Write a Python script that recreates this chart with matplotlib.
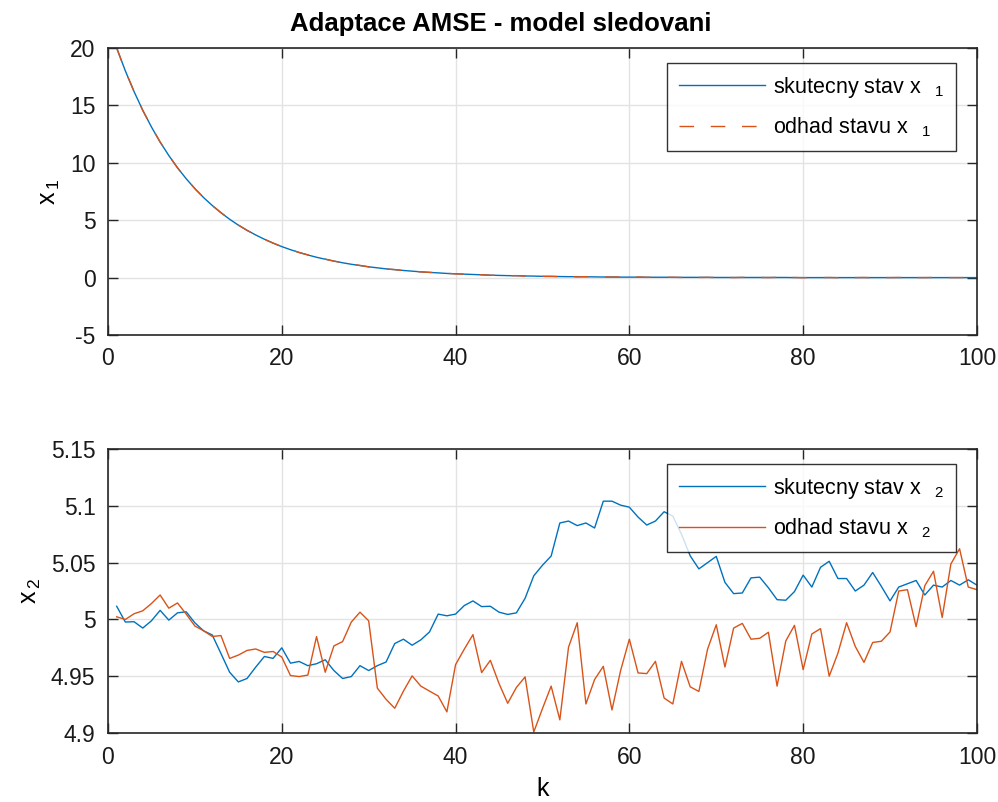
import numpy as np
import matplotlib.pyplot as plt
from matplotlib.ticker import FormatStrFormatter

plt.rcParams['font.family'] = ['Liberation Sans', 'DejaVu Sans']
plt.rcParams['mathtext.fontset'] = 'custom'
plt.rcParams['mathtext.rm'] = 'Liberation Sans'
plt.rcParams['mathtext.it'] = 'Liberation Sans'
plt.rcParams['axes.unicode_minus'] = False

k = np.arange(1, 101)

x1_true = [20.00, 18.00, 16.20, 14.58, 13.12, 11.81, 10.63, 9.57, 8.61, 7.75,
           6.97, 6.28, 5.65, 5.08, 4.57, 4.12, 3.71, 3.34, 3.00, 2.70,
           2.43, 2.19, 1.97, 1.77, 1.60, 1.44, 1.29, 1.16, 1.05, 0.94,
           0.85, 0.76, 0.69, 0.62, 0.56, 0.50, 0.45, 0.41, 0.36, 0.33,
           0.30, 0.27, 0.24, 0.21, 0.19, 0.17, 0.16, 0.14, 0.13, 0.11,
           0.10, 0.09, 0.08, 0.08, 0.07, 0.06, 0.05, 0.05, 0.04, 0.04,
           0.04, 0.03, 0.03, 0.03, 0.02, 0.02, 0.02, 0.02, 0.02, 0.01,
           0.01, 0.01, 0.01, 0.01, 0.01, 0.01, 0.01, 0.01, 0.00, 0.00,
           0.00, 0.00, 0.00, 0.00, 0.00, 0.00, 0.00, 0.00, 0.00, 0.00,
           0.00, 0.00, 0.00, 0.00, 0.00, 0.00, 0.00, 0.00, 0.00, 0.00]
x1_est = [20.00, 17.98, 16.22, 14.56, 13.14, 11.80, 10.64, 9.55, 8.62, 7.74,
          6.98, 6.27, 5.66, 5.07, 4.58, 4.11, 3.72, 3.33, 3.01, 2.69,
          2.44, 2.18, 1.98, 1.76, 1.61, 1.43, 1.30, 1.15, 1.06, 0.93,
          0.86, 0.74, 0.70, 0.61, 0.57, 0.49, 0.46, 0.40, 0.37, 0.32,
          0.31, 0.26, 0.25, 0.20, 0.20, 0.16, 0.17, 0.13, 0.14, 0.10,
          0.11, 0.08, 0.10, 0.06, 0.08, 0.05, 0.06, 0.04, 0.05, 0.03,
          0.05, 0.02, 0.04, 0.02, 0.03, 0.01, 0.03, 0.01, 0.02, 0.00,
          0.02, 0.00, 0.02, 0.00, 0.01, 0.00, 0.02, 0.00, 0.01, -0.01,
          0.01, 0.00, 0.01, -0.01, 0.01, 0.00, 0.01, -0.01, 0.00, 0.00,
          0.01, -0.01, 0.00, 0.00, 0.01, -0.01, 0.00, 0.00, 0.00, 0.00]

x2_true = [5.0116, 4.9977, 4.9980, 4.9924, 4.9988, 5.0080, 4.9994, 5.0058, 5.0067, 4.9970,
           4.9900, 4.9863, 4.9700, 4.9535, 4.9450, 4.9480, 4.9580, 4.9674, 4.9657, 4.9750,
           4.9615, 4.9630, 4.9593, 4.9610, 4.9645, 4.9550, 4.9480, 4.9497, 4.9593, 4.9550,
           4.9593, 4.9625, 4.9788, 4.9826, 4.9773, 4.9820, 4.9890, 5.0047, 5.0032, 5.0047,
           5.0122, 5.0163, 5.0113, 5.0116, 5.0064, 5.0044, 5.0058, 5.0186, 5.0384, 5.0477,
           5.0558, 5.0849, 5.0866, 5.0826, 5.0849, 5.0805, 5.1041, 5.1041, 5.1006, 5.0988,
           5.0901, 5.0831, 5.0866, 5.0948, 5.0910, 5.0750, 5.0560, 5.0445, 5.0500, 5.0555,
           5.0326, 5.0227, 5.0233, 5.0366, 5.0372, 5.0279, 5.0174, 5.0169, 5.0245, 5.0390,
           5.0285, 5.0459, 5.0512, 5.0360, 5.0360, 5.0250, 5.0302, 5.0413, 5.0291, 5.0163,
           5.0285, 5.0314, 5.0343, 5.0215, 5.0302, 5.0285, 5.0343, 5.0302, 5.0349, 5.0302]
x2_est = [5.0023, 5.0000, 5.0050, 5.0076, 5.0140, 5.0215, 5.0099, 5.0145, 5.0047, 4.9942,
          4.9900, 4.9850, 4.9858, 4.9657, 4.9686, 4.9727, 4.9740, 4.9710, 4.9718, 4.9669,
          4.9506, 4.9497, 4.9510, 4.9849, 4.9535, 4.9767, 4.9805, 4.9977, 5.0064, 4.9988,
          4.9395, 4.9297, 4.9218, 4.9369, 4.9503, 4.9413, 4.9369, 4.9326, 4.9186, 4.9602,
          4.9738, 4.9866, 4.9532, 4.9640, 4.9436, 4.9262, 4.9401, 4.9494, 4.9009, 4.9215,
          4.9413, 4.9116, 4.9756, 4.9971, 4.9256, 4.9471, 4.9587, 4.9203, 4.9552, 4.9826,
          4.9529, 4.9523, 4.9631, 4.9308, 4.9256, 4.9631, 4.9407, 4.9366, 4.9738, 4.9953,
          4.9581, 4.9924, 4.9965, 4.9826, 4.9834, 4.9887, 4.9413, 4.9810, 4.9948, 4.9558,
          4.9872, 4.9919, 4.9500, 4.9703, 4.9971, 4.9762, 4.9622, 4.9797, 4.9808, 4.9890,
          5.0250, 5.0262, 4.9936, 5.0297, 5.0424, 5.0017, 5.0488, 5.0622, 5.0285, 5.0262]

blue = '#0072BD'
orange = '#D95319'
axc = '#262626'

fig = plt.figure(figsize=(9.98, 8.02), dpi=100)
ax1 = fig.add_axes([0.1082, 0.5823, 0.8707, 0.3579])
ax2 = fig.add_axes([0.1082, 0.0860, 0.8707, 0.3541])


def style(ax):
    ax.grid(True, color='#e3e3e3', linewidth=1.0)
    ax.set_axisbelow(True)
    for s in ax.spines.values():
        s.set_color(axc)
        s.set_linewidth(1.2)
    ax.tick_params(direction='in', length=7, width=1.0, colors=axc,
                   labelcolor='#1a1a1a', labelsize=16.5, top=True, right=True, pad=9)
    ax.set_xlim(0, 100)
    ax.set_xticks([0, 20, 40, 60, 80, 100])


def legend(ax):
    leg = ax.legend(loc='upper right', bbox_to_anchor=(0.976, 0.948), fontsize=15.5,
                    handlelength=4.0, frameon=True, fancybox=False, borderpad=0.55,
                    labelspacing=0.72, handletextpad=0.35, borderaxespad=0.0)
    leg.get_frame().set_edgecolor('black')
    leg.get_frame().set_linewidth(1.0)


ax1.plot(k, x1_true, color=blue, lw=1.0, label=r'skutecny stav x$_{\quad\,1}$')
ax1.plot(k, x1_est, color=orange, lw=1.0, dashes=(10.5, 12), label=r'odhad stavu x$_{\quad\,1}$')
style(ax1)
ax1.set_ylim(-5, 20)
ax1.set_yticks([-5, 0, 5, 10, 15, 20])
ax1.set_ylabel(r'x$_{\,1}$', fontsize=18, labelpad=6)
ax1.set_title('Adaptace AMSE - model sledovani', fontsize=18.5, fontweight='bold',
              pad=12, x=0.452)
legend(ax1)

ax2.plot(k, x2_true, color=blue, lw=1.0, label=r'skutecny stav x$_{\quad\,2}$')
ax2.plot(k, x2_est, color=orange, lw=1.0, label=r'odhad stavu x$_{\quad\,2}$')
style(ax2)
ax2.set_ylim(4.9, 5.15)
ax2.set_yticks([4.9, 4.95, 5.0, 5.05, 5.1, 5.15])
ax2.yaxis.set_major_formatter(FormatStrFormatter('%g'))
ax2.set_ylabel(r'x$_{\,2}$', fontsize=18, labelpad=6)
ax2.set_xlabel('k', fontsize=18, labelpad=6)
legend(ax2)

fig.savefig('out.png', dpi=100)
